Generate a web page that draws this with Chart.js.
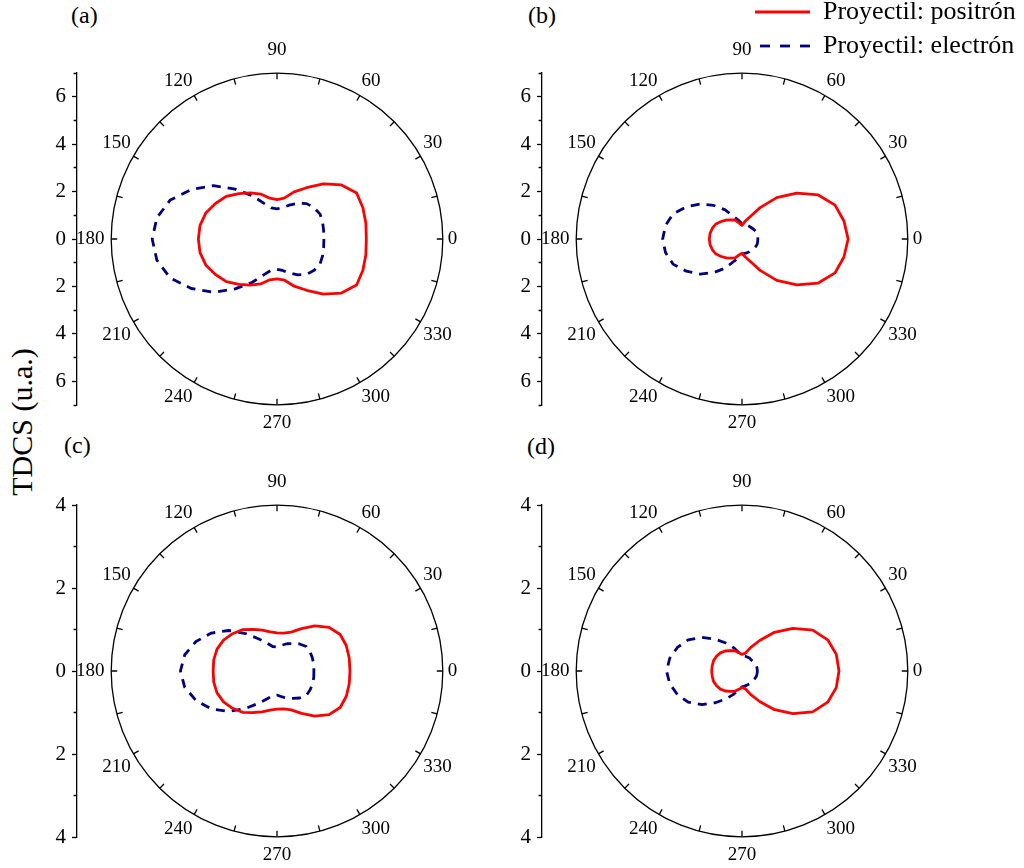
<!DOCTYPE html>
<html>
<head>
<meta charset="utf-8">
<script src="https://cdn.jsdelivr.net/npm/chart.js@4.4.1/dist/chart.umd.min.js"></script>
<style>
  html, body { margin: 0; padding: 0; background: #fff; overflow: hidden; }
  #page { position: relative; width: 1024px; height: 868px; }
  #page canvas { position: absolute; }
  .txt { position: absolute; font-family: 'Liberation Serif', serif; color: #000; line-height: 1; white-space: nowrap; }
</style>
</head>
<body>
<div id="page">
  <div class="txt" style="left:71px; top:3px; font-size:24px">(a)</div>
  <div class="txt" style="left:528px; top:3px; font-size:24px">(b)</div>
  <div class="txt" style="left:64px; top:433px; font-size:24px">(c)</div>
  <div class="txt" style="left:527px; top:434px; font-size:24px">(d)</div>
  <div class="txt" style="left:22px; top:422px; font-size:30px; transform: translate(-50%, -50%) rotate(-90deg)">TDCS (u.a.)</div>
</div>
<script>
// angle of each sample (degrees)
const thetaDeg = [0, 10, 20, 30, 40, 50, 60, 70, 80, 90, 100, 110, 120, 130, 140, 150, 160, 170,
  180, 190, 200, 210, 220, 230, 240, 250, 260, 270, 280, 290, 300, 310, 320, 330, 340, 350];

// TDCS (u.a.), one value per angle above
const posA = [3.77, 3.81, 3.86, 3.88, 3.55, 3.04, 2.50, 2.12, 1.75, 1.66, 1.75, 2.02, 2.25, 2.50, 2.80, 3.00, 3.20, 3.30,
  3.32, 3.30, 3.20, 3.00, 2.80, 2.50, 2.25, 2.02, 1.75, 1.68, 1.76, 2.12, 2.50, 3.04, 3.55, 3.88, 3.86, 3.81];
const eleA = [1.98, 2.00, 2.05, 2.10, 2.05, 1.95, 1.75, 1.52, 1.35, 1.27, 1.33, 1.60, 2.12, 2.75, 3.50, 4.18, 4.80, 5.15,
  5.27, 5.15, 4.80, 4.18, 3.50, 2.75, 2.12, 1.60, 1.33, 1.28, 1.35, 1.52, 1.75, 1.95, 2.05, 2.10, 2.05, 2.00];
const posB = [4.48, 4.37, 4.18, 3.72, 3.02, 2.28, 1.53, 1.00, 0.76, 0.58, 0.68, 0.85, 0.93, 1.04, 1.15, 1.27, 1.33, 1.37,
  1.38, 1.37, 1.33, 1.27, 1.15, 1.04, 0.93, 0.85, 0.68, 0.60, 0.76, 1.00, 1.53, 2.28, 3.02, 3.72, 4.18, 4.37];
const eleB = [0.67, 0.67, 0.68, 0.66, 0.64, 0.62, 0.62, 0.62, 0.62, 0.64, 0.80, 1.00, 1.42, 1.85, 2.30, 2.72, 3.10, 3.28,
  3.35, 3.28, 3.10, 2.72, 2.30, 1.85, 1.42, 1.00, 0.80, 0.64, 0.62, 0.62, 0.62, 0.62, 0.64, 0.66, 0.68, 0.67];
const posC = [1.76, 1.77, 1.78, 1.76, 1.64, 1.42, 1.18, 1.00, 0.93, 0.92, 0.96, 1.05, 1.16, 1.30, 1.40, 1.49, 1.54, 1.55,
  1.54, 1.55, 1.54, 1.49, 1.40, 1.30, 1.16, 1.05, 0.96, 0.92, 0.93, 1.00, 1.18, 1.42, 1.64, 1.76, 1.78, 1.77];
const eleC = [0.89, 0.90, 0.91, 0.92, 0.92, 0.85, 0.76, 0.70, 0.63, 0.58, 0.60, 0.72, 0.90, 1.18, 1.52, 1.83, 2.08, 2.26,
  2.33, 2.26, 2.08, 1.83, 1.52, 1.18, 0.90, 0.72, 0.60, 0.58, 0.63, 0.70, 0.76, 0.85, 0.92, 0.92, 0.91, 0.90];
const posD = [2.34, 2.31, 2.20, 1.97, 1.60, 1.22, 0.85, 0.60, 0.43, 0.40, 0.45, 0.52, 0.57, 0.63, 0.68, 0.71, 0.73, 0.73,
  0.73, 0.73, 0.73, 0.71, 0.68, 0.63, 0.57, 0.52, 0.45, 0.40, 0.43, 0.60, 0.85, 1.22, 1.60, 1.97, 2.20, 2.31];
const eleD = [0.37, 0.37, 0.37, 0.36, 0.35, 0.35, 0.36, 0.36, 0.37, 0.38, 0.45, 0.60, 0.78, 1.00, 1.26, 1.50, 1.66, 1.77,
  1.82, 1.77, 1.66, 1.50, 1.26, 1.00, 0.78, 0.60, 0.45, 0.38, 0.37, 0.36, 0.36, 0.35, 0.35, 0.36, 0.37, 0.37];

const radialMax = [7, 7, 4, 4];
const seriesNames = ['Proyectil: positrón', 'Proyectil: electrón'];

Chart.defaults.font.family = "'Liberation Serif', 'Times New Roman', serif";
Chart.defaults.color = '#000';

const page = document.getElementById('page');

// radar slots every 5 deg, going clockwise from 0 (so angles read counter-clockwise)
const slots = [];
for (let i = 0; i < 72; i++) slots.push((360 - i * 5) % 360);

function toSlots(values) {
  return slots.map(a => (a % 10 === 0 ? values[thetaDeg.indexOf(a)] : null));
}

const labelPad = { '90': 11.5, '270': 6.5, '0': 5, '180': 6.7 };

const panels = [
  { pos: posA, ele: eleA, max: radialMax[0], cx: 277, cy: 239, axisX: 77 },
  { pos: posB, ele: eleB, max: radialMax[1], cx: 742, cy: 239, axisX: 542 },
  { pos: posC, ele: eleC, max: radialMax[2], cx: 277, cy: 671, axisX: 77 },
  { pos: posD, ele: eleD, max: radialMax[3], cx: 742, cy: 671, axisX: 542 }
];

function lineSet(label, data, color, dash) {
  return {
    label: label,
    data: data,
    borderColor: color,
    backgroundColor: 'transparent',
    borderWidth: 2.8,
    borderDash: dash,
    borderJoinStyle: 'round',
    fill: false,
    spanGaps: true,
    pointRadius: 0,
    pointHoverRadius: 0
  };
}

function makePolar(p) {
  const cv = document.createElement('canvas');
  cv.width = 402;
  cv.height = 402;
  page.appendChild(cv);
  const chart = new Chart(cv, {
    type: 'radar',
    data: {
      labels: slots,
      datasets: [
        lineSet(seriesNames[0], toSlots(p.pos), '#ff0000', []),
        lineSet(seriesNames[1], toSlots(p.ele), '#000080', [9, 7])
      ]
    },
    options: {
      responsive: false,
      animation: false,
      events: [],
      plugins: { legend: { display: false }, tooltip: { enabled: false } },
      scales: {
        r: {
          min: 0,
          max: p.max,
          startAngle: 90,
          ticks: { display: false, stepSize: p.max },
          grid: { circular: true, color: '#000', lineWidth: 1.3 },
          angleLines: {
            display: true,
            color: '#000',
            lineWidth: c => (c.index % 3 === 0 ? 1.3 : 0),
            borderDash: c => [0, c.scale.drawingArea - 6, 6, 2000]
          },
          pointLabels: {
            font: { size: 19 },
            color: '#000',
            padding: c => (c.label === '' ? 0 : (labelPad[c.label] !== undefined ? labelPad[c.label] : 3)),
            callback: a => (a % 30 === 0 ? String(a) : '')
          }
        }
      }
    }
  });
  const r = chart.scales.r;
  cv.style.left = (p.cx - r.xCenter) + 'px';
  cv.style.top = (p.cy - r.yCenter) + 'px';
  makeAxis(p, r.drawingArea);
}

// the linear TDCS axis drawn at the left of each polar plot
function makeAxis(p, radius) {
  const pad = 20, wAxis = 50;
  const cv = document.createElement('canvas');
  cv.width = 70;
  cv.height = Math.round(2 * radius) + 2 * pad;
  cv.style.left = (p.axisX - wAxis) + 'px';
  cv.style.top = Math.round(p.cy - radius - pad) + 'px';
  page.appendChild(cv);
  new Chart(cv, {
    type: 'scatter',
    data: { datasets: [] },
    options: {
      responsive: false,
      animation: false,
      events: [],
      layout: { padding: { top: pad, bottom: pad, left: 0, right: 0 } },
      plugins: { legend: { display: false }, tooltip: { enabled: false } },
      scales: {
        x: { display: false },
        y: {
          min: -p.max,
          max: p.max,
          afterFit: s => { s.width = wAxis; },
          ticks: {
            stepSize: 1,
            autoSkip: false,
            padding: 6,
            font: { size: 21 },
            color: '#000',
            callback: v => (v % 2 === 0 ? String(Math.abs(v)) : '')
          },
          grid: {
            drawOnChartArea: false,
            tickLength: 5,
            tickWidth: 1.3,
            tickColor: '#000',
            tickBorderDash: c => (c.tick && c.tick.value % 2 !== 0 ? [0, 1.6, 10] : [])
          },
          border: { color: '#000', width: 1.3 }
        }
      }
    }
  });
}

function makeLegend() {
  const cv = document.createElement('canvas');
  cv.width = 300;
  cv.height = 110;
  cv.style.left = '747px';
  cv.style.top = '-9px';
  page.appendChild(cv);
  new Chart(cv, {
    type: 'line',
    data: {
      datasets: [
        lineSet(seriesNames[0], [], '#ff0000', []),
        lineSet(seriesNames[1], [], '#000080', [10, 10])
      ]
    },
    options: {
      responsive: false,
      animation: false,
      events: [],
      scales: { x: { display: false }, y: { display: false } },
      plugins: {
        tooltip: { enabled: false },
        legend: {
          position: 'top',
          align: 'start',
          maxHeight: 100,
          labels: {
            usePointStyle: true,
            pointStyleWidth: 55,
            padding: 8,
            font: { size: 26 },
            color: '#000',
            generateLabels: ch => ch.data.datasets.map((ds, i) => ({
              text: ds.label,
              fillStyle: ds.borderColor,
              strokeStyle: ds.borderColor,
              fontColor: '#000',
              lineWidth: ds.borderWidth,
              lineDash: ds.borderDash,
              lineDashOffset: -5,
              pointStyle: 'line',
              hidden: false,
              datasetIndex: i
            }))
          }
        }
      }
    }
  });
}

panels.forEach(makePolar);
makeLegend();
</script>
</body>
</html>
